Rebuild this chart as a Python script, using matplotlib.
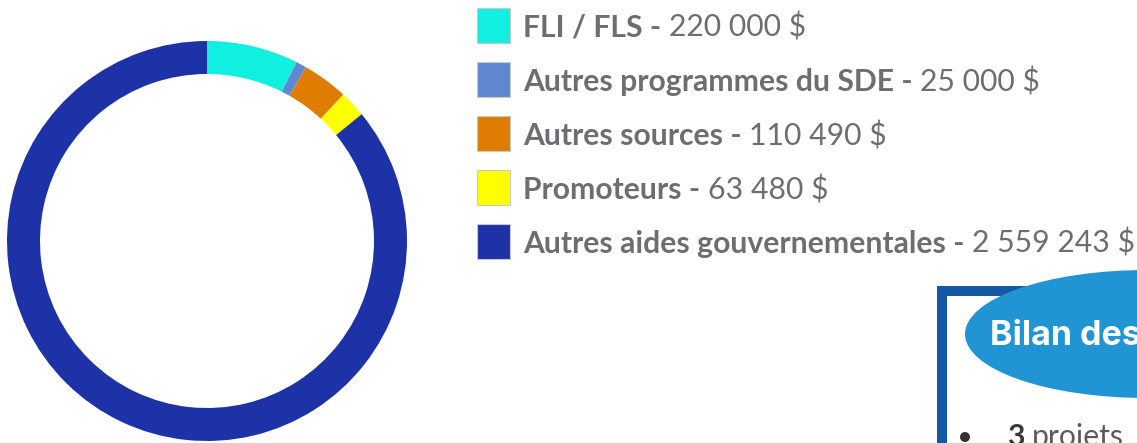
import matplotlib
matplotlib.use("Agg")
import matplotlib.pyplot as plt
from matplotlib.patches import Rectangle, Ellipse, Circle

# ---- data ----
labels = ["FLI / FLS", "Autres programmes du SDE", "Autres sources",
          "Promoteurs", "Autres aides gouvernementales"]
values = [220000, 25000, 110490, 63480, 2559243]
value_labels = ["220 000 $", "25 000 $", "110 490 $", "63 480 $", "2 559 243 $"]
colors = ["#10EFE0", "#6088D0", "#DF7D02", "#FFFF00", "#1E32A8"]
box_title = "Bilan des"
bullet_num = "3"
bullet_text = "projets"

W, H = 1137, 443
FONT = ["Lato", "DejaVu Sans"]
TXT = "#6d6e71"

fig = plt.figure(figsize=(W / 100, H / 100), dpi=100)
ax = fig.add_axes([0, 0, 1, 1])

ax.pie(values, colors=colors, startangle=90, counterclock=False,
       radius=200, center=(207, H - 241),
       wedgeprops=dict(width=33, linewidth=0, edgecolor="none"))
ax.set_xlim(0, W)
ax.set_ylim(0, H)
ax.axis("off")

r = fig.canvas.get_renderer()


def tw(s, size, weight):
    t = ax.text(0, 0, s, fontsize=size, fontweight=weight, family=FONT)
    w = t.get_window_extent(r).width
    t.remove()
    return w


# fit legend font size to the longest line width
s0 = 20
space0 = tw("a a", s0, "normal") - tw("aa", s0, "normal")
w0 = tw(labels[-1] + " -", s0, "bold") + space0 + tw(value_labels[-1], s0, "normal")
fs = s0 * 612 / w0
space = tw("a a", fs, "normal") - tw("aa", fs, "normal")

sq_x, sq_w, sq_h = 477, 33, 35
centers = [25, 79.5, 133.5, 187.5, 241.5]
for lab, val, col, cy in zip(labels, value_labels, colors, centers):
    ax.add_patch(Rectangle((sq_x, H - cy - sq_h / 2), sq_w, sq_h,
                           facecolor=col, edgecolor="#c8c8c8", linewidth=0.8))
    base = H - (cy + 11.5)
    t1 = ax.text(523, base, lab + " -", fontsize=fs, fontweight="bold",
                 family=FONT, color=TXT, va="baseline")
    w1 = t1.get_window_extent(r).width
    ax.text(523 + w1 + space, base, val, fontsize=fs, fontweight="normal",
            family=FONT, color=TXT, va="baseline")

# box at bottom right
ax.add_patch(Rectangle((942, -60), 400, (H - 291) + 60, facecolor="white",
                       edgecolor="#1559A5", linewidth=7.2, zorder=3))
ax.add_patch(Ellipse((1147, H - 334), 364, 128, facecolor="#2194D3",
                     edgecolor="none", zorder=4))
ax.text(990, H - 345, box_title, fontsize=24.5, fontweight="bold",
        family=["Inter", "DejaVu Sans"], color="white", va="baseline", zorder=5)

ax.add_patch(Circle((965, H - 437), 5, facecolor="#333333", edgecolor="none", zorder=5))
t3 = ax.text(1007, H - 446, bullet_num, fontsize=fs, fontweight="bold",
             family=FONT, color="#3a3a3a", va="baseline", zorder=5)
w3 = t3.get_window_extent(r).width
ax.text(1007 + w3 + space, H - 446, bullet_text, fontsize=fs, fontweight="normal",
        family=FONT, color="#5a5a5a", va="baseline", zorder=5)

fig.savefig("out.png", dpi=100)
